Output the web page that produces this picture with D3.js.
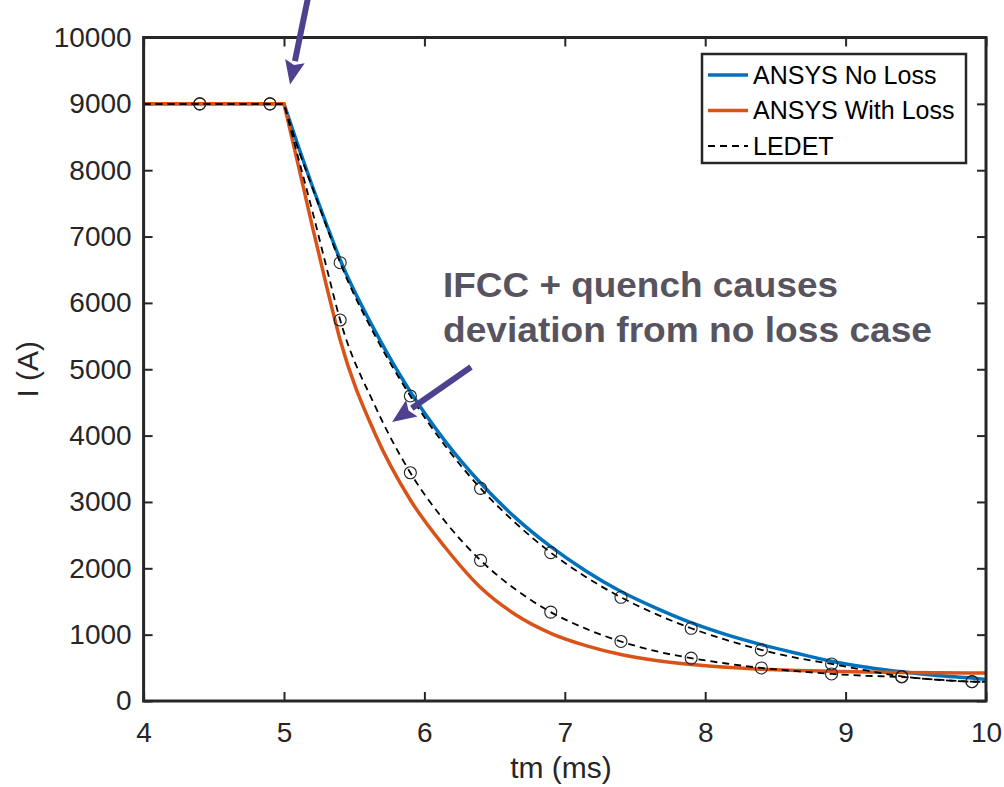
<!DOCTYPE html>
<html>
<head>
<meta charset="utf-8">
<script src="https://cdn.jsdelivr.net/npm/d3@7"></script>
<style>
  body { margin: 0; background: #fff; }
  svg { display: block; }
</style>
</head>
<body>
<div id="chart"></div>
<script>
// time axis (ms) shared by every series
const time = [4, 4.4, 4.9, 5, 5.1, 5.2, 5.3, 5.4, 5.65, 5.9, 6.15, 6.4, 6.65, 6.9,
  7.15, 7.4, 7.65, 7.9, 8.15, 8.4, 8.65, 8.9, 9.15, 9.4, 9.65, 9.9, 10];

// current (A)
const ansysNoLoss = [9000, 9000, 9000, 9000, 8370, 7770, 7200, 6650, 5570, 4660, 3910, 3285, 2760, 2326,
  1960, 1650, 1400, 1180, 1000, 850, 720, 600, 510, 440, 385, 345, 325];
const ansysWithLoss = [9000, 9000, 9000, 9000, 8090, 7170, 6280, 5440, 4020, 3030, 2310, 1710, 1300, 1020,
  835, 700, 610, 550, 510, 480, 460, 448, 437, 430, 425, 422, 421];
const ledetNoLoss = [9000, 9000, 9000, 9000, 8330, 7750, 7170, 6606, 5500, 4597, 3840, 3205, 2680, 2236,
  1870, 1563, 1310, 1096, 920, 770, 650, 558, 460, 370, 320, 292, 288];
const ledetWithLoss = [9000, 9000, 9000, 9000, 8200, 7400, 6560, 5742, 4440, 3440, 2700, 2120, 1680, 1340,
  1090, 897, 750, 646, 565, 498, 450, 408, 380, 362, 322, 291, 285];

// LEDET output steps that carry a circle marker
const markerTimes = [4.4, 4.9, 5.4, 5.9, 6.4, 6.9, 7.4, 7.9, 8.4, 8.9, 9.4, 9.9];

const xTicks = [4, 5, 6, 7, 8, 9, 10];
const yTicks = d3.range(0, 10001, 1000);

const legendNames = ["ANSYS No Loss", "ANSYS With Loss", "LEDET"];

const width = 1004, height = 787;
const margin = {top: 37.5, left: 143.6, right: 18, bottom: 86};
const font = "'Liberation Sans', Arial, Helvetica, sans-serif";
const axisColor = "#262626";

const svg = d3.select("#chart").append("svg")
  .attr("width", width)
  .attr("height", height);

const x = d3.scaleLinear().domain([4, 10]).range([margin.left, width - margin.right]);
const y = d3.scaleLinear().domain([0, 10000]).range([height - margin.bottom, margin.top]);

const plotW = x(10) - x(4), plotH = y(0) - y(10000);

svg.append("clipPath").attr("id", "plot-clip")
  .append("rect")
    .attr("x", x(4)).attr("y", y(10000))
    .attr("width", plotW).attr("height", plotH);

// axes, ticks pointing inward on all four sides
function styleAxis(g) {
  g.select(".domain").remove();
  g.selectAll("line").attr("stroke", axisColor).attr("stroke-width", 2);
  g.selectAll("text")
    .attr("fill", axisColor)
    .style("font-family", font)
    .style("font-size", "28px");
}

svg.append("g")
  .attr("transform", `translate(0,${y(0)})`)
  .call(d3.axisBottom(x).tickValues(xTicks).tickSize(-9).tickPadding(21).tickFormat(d3.format("d")))
  .call(styleAxis);

svg.append("g")
  .attr("transform", `translate(0,${y(10000)})`)
  .call(d3.axisTop(x).tickValues(xTicks).tickSize(-9).tickFormat(""))
  .call(styleAxis);

svg.append("g")
  .attr("transform", `translate(${x(4)},0)`)
  .call(d3.axisLeft(y).tickValues(yTicks).tickSize(-9).tickPadding(12).tickFormat(d3.format("d")))
  .call(styleAxis);

svg.append("g")
  .attr("transform", `translate(${x(10)},0)`)
  .call(d3.axisRight(y).tickValues(yTicks).tickSize(-9).tickFormat(""))
  .call(styleAxis);

// axis labels
svg.append("text")
  .attr("x", 561)
  .attr("y", 778)
  .attr("text-anchor", "middle")
  .attr("fill", axisColor)
  .style("font-family", font)
  .style("font-size", "30px")
  .text("tm (ms)");

svg.append("text")
  .attr("transform", `translate(38,${(y(0) + y(10000)) / 2}) rotate(-90)`)
  .attr("text-anchor", "middle")
  .attr("fill", axisColor)
  .style("font-family", font)
  .style("font-size", "30px")
  .text("I (A)");

// curves
const pts = vals => time.map((t, i) => ({t, v: vals[i]}));
const flat = d3.line().x(d => x(d.t)).y(d => y(d.v));
const smooth = d3.line().x(d => x(d.t)).y(d => y(d.v)).curve(d3.curveMonotoneX);

const plot = svg.append("g").attr("clip-path", "url(#plot-clip)");

function drawSeries(vals, color, widthPx, dash) {
  const p = pts(vals);
  // flat top before the discharge, then the decay
  const path = flat(p.filter(d => d.t <= 5)) + smooth(p.filter(d => d.t >= 5)).replace(/^M/, "L");
  plot.append("path")
    .attr("d", path)
    .attr("fill", "none")
    .attr("stroke", color)
    .attr("stroke-width", widthPx)
    .attr("stroke-linejoin", "round")
    .attr("stroke-dasharray", dash);
}

drawSeries(ansysNoLoss, "#0072BD", 3.5, null);
drawSeries(ansysWithLoss, "#D95319", 3.5, null);
drawSeries(ledetNoLoss, "#000", 1.8, "7,5");
drawSeries(ledetWithLoss, "#000", 1.8, "7,5");

[ledetNoLoss, ledetWithLoss].forEach(vals => {
  plot.selectAll(null)
    .data(pts(vals).filter(d => markerTimes.some(m => Math.abs(m - d.t) < 1e-6)))
    .enter().append("circle")
      .attr("cx", d => x(d.t))
      .attr("cy", d => y(d.v))
      .attr("r", 6)
      .attr("fill", "none")
      .attr("stroke", "#222")
      .attr("stroke-width", 1.1);
});

// frame
svg.append("rect")
  .attr("x", x(4)).attr("y", y(10000))
  .attr("width", plotW).attr("height", plotH)
  .attr("fill", "none")
  .attr("stroke", axisColor)
  .attr("stroke-width", 3);

// legend
const legendColors = ["#0072BD", "#D95319", "#000"];
const legend = svg.append("g").attr("transform", "translate(702,54)");
legend.append("rect")
  .attr("width", 264).attr("height", 109)
  .attr("fill", "#fff")
  .attr("stroke", axisColor)
  .attr("stroke-width", 2.5);

legendNames.forEach((name, i) => {
  const ly = 21 + i * 35.5;
  legend.append("line")
    .attr("x1", 6).attr("x2", 46)
    .attr("y1", ly).attr("y2", ly)
    .attr("stroke", legendColors[i])
    .attr("stroke-width", i < 2 ? 3.5 : 1.8)
    .attr("stroke-dasharray", i < 2 ? null : "7,5");
  legend.append("text")
    .attr("x", 51).attr("y", ly)
    .attr("dy", "0.35em")
    .attr("fill", "#000")
    .style("font-family", font)
    .style("font-size", "25px")
    .text(name);
});

// annotations
const arrowColor = "#4f418f";
function arrow(t0, v0, t1, v1) {
  const x0 = x(t0), y0 = y(v0), x1 = x(t1), y1 = y(v1);
  const a = Math.atan2(y1 - y0, x1 - x0);
  const headLen = 24, headW = 10;
  const bx = x1 - headLen * Math.cos(a), by = y1 - headLen * Math.sin(a);
  const g = svg.append("g");
  g.append("line")
    .attr("x1", x0).attr("y1", y0).attr("x2", bx).attr("y2", by)
    .attr("stroke", arrowColor)
    .attr("stroke-width", 6);
  const nx = -Math.sin(a) * headW, ny = Math.cos(a) * headW;
  g.append("path")
    .attr("d", `M${x1},${y1}L${bx + nx},${by + ny}L${bx + 4 * Math.cos(a)},${by + 4 * Math.sin(a)}L${bx - nx},${by - ny}Z`)
    .attr("fill", arrowColor);
}

arrow(5.171, 10600, 5.043, 9290);
arrow(6.332, 5034, 5.77, 4205);

const note = svg.append("text")
  .attr("fill", "#57545f")
  .style("font-family", font)
  .style("font-size", "35px")
  .style("font-weight", "bold");
note.append("tspan").attr("x", 443).attr("y", 297)
  .attr("textLength", 395).attr("lengthAdjust", "spacingAndGlyphs")
  .text("IFCC + quench causes");
note.append("tspan").attr("x", 443).attr("y", 342)
  .attr("textLength", 489).attr("lengthAdjust", "spacingAndGlyphs")
  .text("deviation from no loss case");
</script>
</body>
</html>
